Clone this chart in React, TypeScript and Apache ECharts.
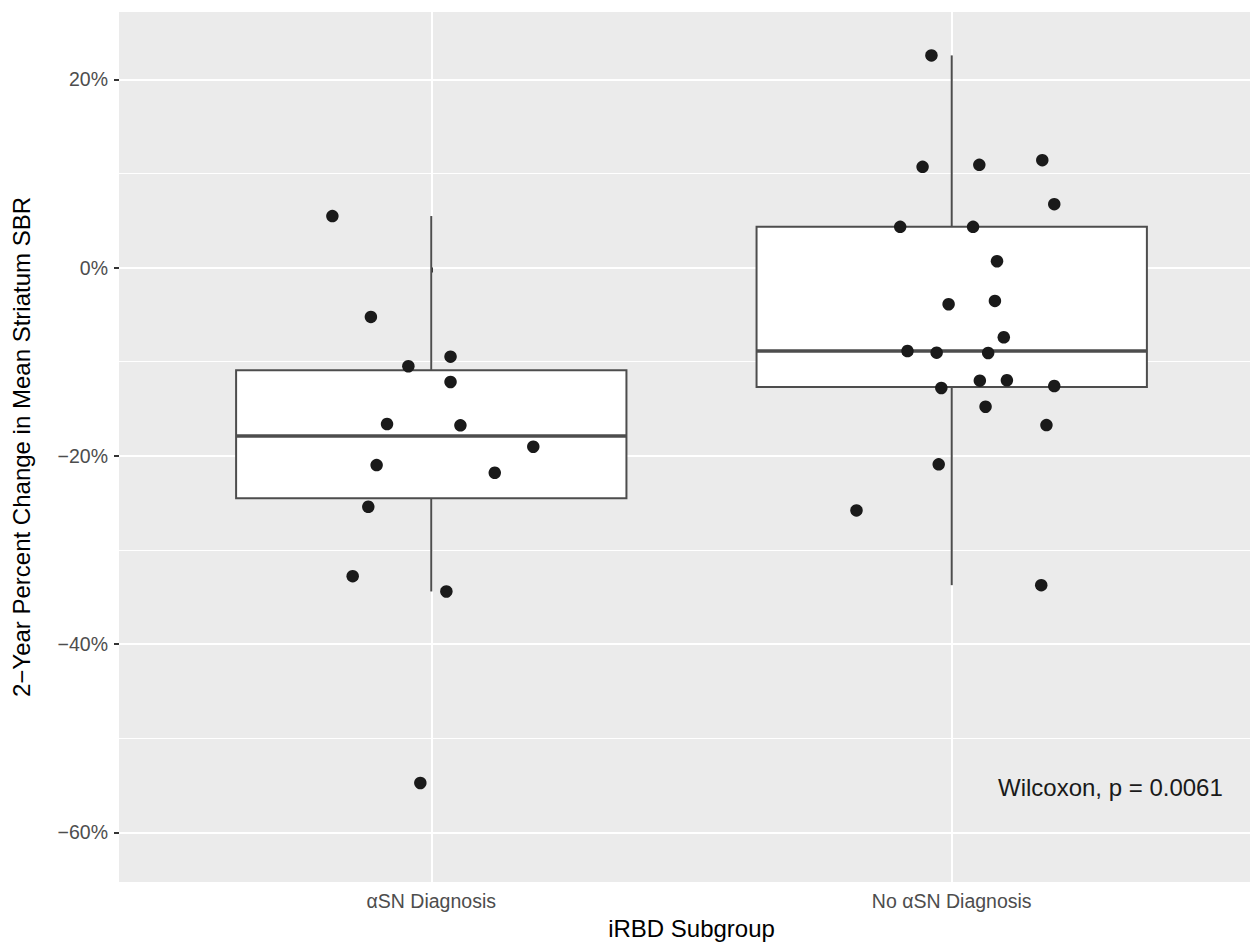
import React, { useEffect, useRef } from "react";
import * as echarts from "echarts";

const categories = ["\u03b1SN Diagnosis", "No \u03b1SN Diagnosis"];

const asnValues = [5.48, -5.24, -10.48, -9.46, -12.15, -16.62, -16.76, -19.03, -20.98, -21.8, -25.41, -32.78, -34.41, -54.76];
const asnJitter = [-0.19, -0.116, -0.044, 0.037, 0.037, -0.085, 0.056, 0.196, -0.105, 0.122, -0.121, -0.151, 0.029, -0.021];

const noAsnValues = [22.55, 10.71, 10.92, 11.42, 6.74, 4.33, 4.33, 0.68, -3.89, -3.54, -7.4, -8.86, -9.04, -9.07, -12.01, -11.97, -12.79, -12.58, -14.78, -16.73, -20.9, -25.8, -33.74];
const noAsnJitter = [-0.039, -0.056, 0.053, 0.174, 0.197, -0.099, 0.041, 0.087, -0.006, 0.083, 0.1, -0.085, -0.029, 0.07, 0.054, 0.106, -0.02, 0.197, 0.065, 0.182, -0.025, -0.183, 0.172];

const yMajorTicks = [-60, -40, -20, 0, 20];
const yMinorTicks = [-50, -30, -10, 10];
const xTicks = [1, 2];

const annotation = "Wilcoxon, p = 0.0061";

const FONT = "'Liberation Sans', Arial, Helvetica, sans-serif";

function quantile(sorted: number[], p: number) {
  const h = (sorted.length - 1) * p;
  const lo = Math.floor(h);
  const hi = Math.ceil(h);
  return sorted[lo] + (h - lo) * (sorted[hi] - sorted[lo]);
}

function boxStats(values: number[]) {
  const s = [...values].sort((a, b) => a - b);
  const q1 = quantile(s, 0.25);
  const med = quantile(s, 0.5);
  const q3 = quantile(s, 0.75);
  const iqr = q3 - q1;
  const lo = Math.min(...s.filter((v) => v >= q1 - 1.5 * iqr));
  const hi = Math.max(...s.filter((v) => v <= q3 + 1.5 * iqr));
  return [lo, q1, med, q3, hi];
}

function fmtPct(v: number) {
  return (v < 0 ? "\u2212" + Math.abs(v) : String(v)) + "%";
}

export default function App() {
  const ref = useRef<HTMLDivElement>(null);

  useEffect(() => {
    if (!ref.current) return;
    const chart = echarts.init(ref.current, undefined, { renderer: "svg" });

    const boxData = [
      [1, ...boxStats(asnValues)],
      [2, ...boxStats(noAsnValues)],
    ];
    const pts1 = asnValues.map((v, i) => [1 + asnJitter[i], v]);
    const pts2 = noAsnValues.map((v, i) => [2 + noAsnJitter[i], v]);

    const gridLines: any[] = [];
    yMinorTicks.forEach((v) => gridLines.push({ yAxis: v, lineStyle: { color: "#ffffff", width: 1, type: "solid" } }));
    yMajorTicks.forEach((v) => gridLines.push({ yAxis: v, lineStyle: { color: "#ffffff", width: 2, type: "solid" } }));
    xTicks.forEach((v) => gridLines.push({ xAxis: v, lineStyle: { color: "#ffffff", width: 2, type: "solid" } }));

    const boxColor = "#4d4d4d";

    chart.setOption({
      animation: false,
      textStyle: { fontFamily: FONT },
      grid: {
        left: 119,
        top: 12,
        width: 1145,
        height: 870,
        show: true,
        backgroundColor: "#EBEBEB",
        borderWidth: 0,
        outerBoundsMode: "none",
        containLabel: false,
      },
      xAxis: {
        type: "value",
        min: 0.4,
        max: 2.6,
        name: "iRBD Subgroup",
        nameLocation: "middle",
        nameGap: 34,
        nameTextStyle: { fontSize: 24, color: "#000000", fontFamily: FONT },
        axisLine: { show: false },
        axisTick: { show: true, customValues: xTicks, length: 5, lineStyle: { color: "#333333", width: 2 } },
        axisLabel: {
          customValues: xTicks,
          formatter: (v: number) => categories[Math.round(v) - 1] ?? "",
          fontSize: 19.5,
          color: "#4D4D4D",
          margin: 9,
          fontFamily: FONT,
        },
        splitLine: { show: false },
      },
      yAxis: {
        type: "value",
        min: -65.28,
        max: 27.16,
        name: "2\u2212Year Percent Change in Mean Striatum SBR",
        nameLocation: "middle",
        nameGap: 86,
        nameTextStyle: { fontSize: 24, color: "#000000", fontFamily: FONT },
        axisLine: { show: false },
        axisTick: { show: true, customValues: yMajorTicks, length: 5, lineStyle: { color: "#333333", width: 2 } },
        axisLabel: {
          customValues: yMajorTicks,
          formatter: (v: number) => fmtPct(v),
          fontSize: 19.5,
          color: "#4D4D4D",
          margin: 11,
          fontFamily: FONT,
        },
        splitLine: { show: false },
      },
      series: [
        {
          type: "scatter",
          data: [],
          z: 1,
          silent: true,
          markLine: {
            silent: true,
            z: 0,
            symbol: "none",
            label: { show: false },
            emphasis: { disabled: true },
            animation: false,
            data: gridLines,
          },
        },
        {
          type: "custom",
          z: 2,
          silent: true,
          data: boxData,
          encode: { x: 0, y: [1, 2, 3, 4, 5] },
          renderItem: (params: any, api: any) => {
            const x = api.value(0);
            const mn = api.value(1);
            const q1 = api.value(2);
            const md = api.value(3);
            const q3 = api.value(4);
            const mx = api.value(5);
            const half = api.size([0.375, 0])[0];
            const c = (v: number) => api.coord([x, v]);
            const pMin = c(mn), pQ1 = c(q1), pMd = c(md), pQ3 = c(q3), pMx = c(mx);
            const cx = pMd[0];
            const line = (x1: number, y1: number, x2: number, y2: number, w: number) => ({
              type: "line",
              shape: { x1, y1, x2, y2 },
              style: { stroke: boxColor, lineWidth: w, fill: null },
            });
            return {
              type: "group",
              children: [
                line(cx, pQ3[1], cx, pMx[1], 2),
                line(cx, pQ1[1], cx, pMin[1], 2),
                {
                  type: "rect",
                  shape: { x: cx - half, y: pQ3[1], width: 2 * half, height: pQ1[1] - pQ3[1] },
                  style: { fill: "#ffffff", stroke: boxColor, lineWidth: 2 },
                },
                line(cx - half, pMd[1], cx + half, pMd[1], 3.5),
              ],
            };
          },
        },
        {
          type: "scatter",
          z: 3,
          data: pts1,
          symbol: "circle",
          symbolSize: 12.5,
          itemStyle: { color: "#1a1a1a", opacity: 1 },
          silent: true,
        },
        {
          type: "scatter",
          z: 3,
          data: pts2,
          symbol: "circle",
          symbolSize: 12.5,
          itemStyle: { color: "#1a1a1a", opacity: 1 },
          silent: true,
        },
      ],
      graphic: [
        {
          type: "text",
          x: 998,
          y: 787,
          z: 10,
          style: {
            text: annotation,
            fontSize: 24,
            fontFamily: FONT,
            fill: "#1a1a1a",
            textAlign: "left",
            textVerticalAlign: "middle",
          },
        },
      ],
    });

    return () => chart.dispose();
  }, []);

  return (
    <div
      ref={ref}
      style={{ position: "absolute", left: 0, top: 0, width: 1250, height: 943, background: "#ffffff" }}
    />
  );
}
